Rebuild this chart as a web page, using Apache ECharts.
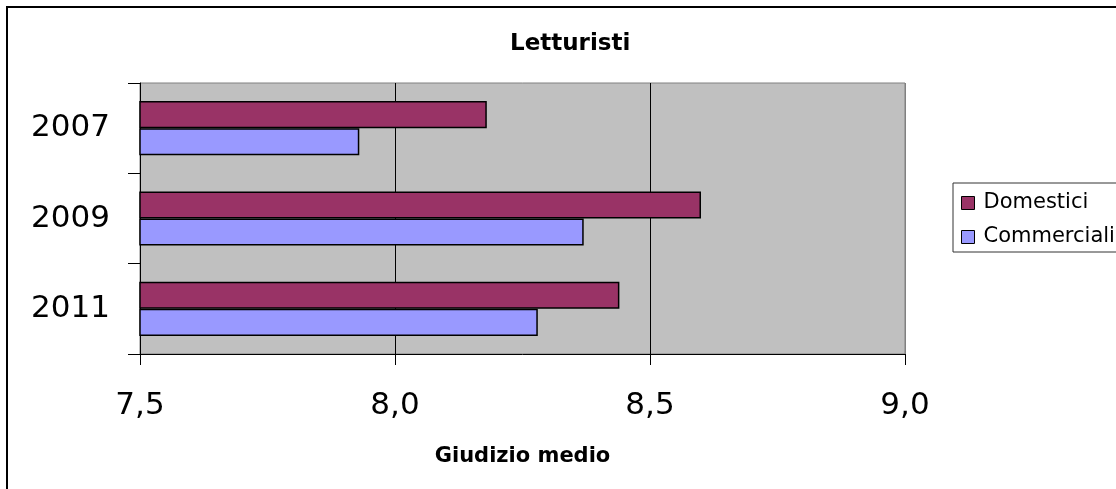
<!DOCTYPE html>
<html>
<head>
<meta charset="utf-8">
<script src="https://cdn.jsdelivr.net/npm/echarts@6/dist/echarts.min.js"></script>
<style>html,body{margin:0;padding:0;background:#fff}#c{width:1116px;height:489px}</style>
</head>
<body>
<div id="c"></div>
<script>
var categories = ['2007', '2009', '2011'];
var domestici = [8.18, 8.60, 8.44];
var commerciali = [7.93, 8.37, 8.28];
var seriesNames = ['Domestici', 'Commerciali'];
var xMin = 7.5, xMax = 9.0, xStep = 0.5;

var FONT = '"DejaVu Sans", Verdana, sans-serif';
var chart = echarts.init(document.getElementById('c'), null, {renderer: 'canvas'});
chart.setOption({
  animation: false,
  backgroundColor: '#fff',
  textStyle: {fontFamily: FONT},
  title: {
    text: 'Letturisti',
    left: 505, top: 28,
    textStyle: {fontFamily: FONT, fontSize: 23, fontWeight: 'bold', color: '#000'}
  },
  graphic: [{
    type: 'rect', silent: true,
    shape: {x: 7, y: 7, width: 1200, height: 600},
    style: {fill: null, stroke: '#000', lineWidth: 2}
  }],
  legend: {
    data: seriesNames,
    orient: 'vertical',
    left: 953, top: 183,
    padding: [8, 12, 3, 8],
    itemGap: 10,
    itemWidth: 13, itemHeight: 13,
    icon: 'rect',
    borderColor: '#333', borderWidth: 1,
    itemStyle: {borderColor: '#000', borderWidth: 1},
    textStyle: {fontFamily: FONT, fontSize: 21, color: '#000', lineHeight: 24, padding: [0, 0, 0, 4]}
  },
  grid: {
    left: 140, right: 211, top: 83, bottom: 135,
    show: true, backgroundColor: '#C0C0C0', borderColor: '#808080', borderWidth: 1
  },
  xAxis: {
    type: 'value', min: xMin, max: xMax, interval: xStep,
    name: 'Giudizio medio', nameLocation: 'middle', nameGap: 92,
    nameTextStyle: {fontFamily: FONT, fontSize: 21, fontWeight: 'bold', color: '#000'},
    axisLine: {show: true, lineStyle: {color: '#000', width: 1}},
    axisTick: {show: true, length: 11, lineStyle: {color: '#000'}},
    axisLabel: {
      fontFamily: FONT, fontSize: 31, color: '#000', margin: 36,
      formatter: function (v) { return v.toFixed(1).replace('.', ','); }
    },
    splitLine: {show: true, lineStyle: {color: ['#000', '#000', '#000', '#808080'], width: 1}}
  },
  yAxis: {
    type: 'category', data: categories, inverse: true,
    axisLine: {show: true, lineStyle: {color: '#000', width: 1}},
    axisTick: {show: true, length: 12, lineStyle: {color: '#000'}},
    axisLabel: {fontFamily: FONT, fontSize: 31, color: '#000', margin: 30, padding: [6, 0, 0, 0]},
    splitLine: {show: false}
  },
  series: [
    {
      name: seriesNames[0], type: 'bar', data: domestici,
      barGap: '0%', barCategoryGap: '40%',
      itemStyle: {color: '#993366', borderColor: '#000', borderWidth: 1.5}
    },
    {
      name: seriesNames[1], type: 'bar', data: commerciali,
      barGap: '0%', barCategoryGap: '40%',
      itemStyle: {color: '#9999FF', borderColor: '#000', borderWidth: 1.5}
    }
  ]
});
</script>
</body>
</html>
